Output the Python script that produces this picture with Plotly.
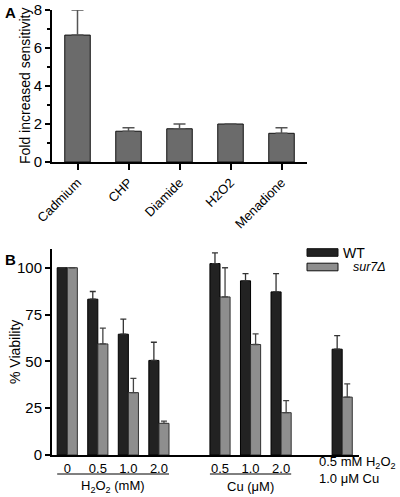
import plotly.graph_objects as go

# ---------------- Panel A data ----------------
a_categories = ["Cadmium", "CHP", "Diamide", "H2O2", "Menadione"]
a_values = [6.68, 1.62, 1.75, 2.0, 1.51]
a_errors = [1.32, 0.18, 0.25, 0.0, 0.29]

# ---------------- Panel B data ----------------
b_slots = [0, 1, 2, 3, 5, 6, 7, 9]  # category slot positions (gaps between groups)
b_ticklabels = ["0", "0.5", "1.0", "2.0", "0.5", "1.0", "2.0", ""]
wt_values = [100, 83.2, 64.5, 50.5, 102.2, 93.0, 87.1, 56.5]
wt_errors = [0, 4.1, 8.1, 9.7, 5.7, 3.8, 9.7, 7.2]
mut_values = [100, 59.3, 33.3, 16.9, 84.4, 59.0, 22.6, 30.9]
mut_errors = [0, 8.4, 7.6, 1.2, 15.6, 5.7, 6.4, 7.1]
b_y_ticks = [0, 25, 50, 75, 100]

FONT = "Liberation Sans, Arial, sans-serif"
W, H = 400, 497

def px(x):
    return x / W

def py(y):
    return 1 - y / H

fig = go.Figure()

fig.add_trace(go.Bar(
    x=a_categories, y=a_values,
    marker=dict(color="#6b6b6b", line=dict(color="#111111", width=1)),
    error_y=dict(type="data", array=a_errors, arrayminus=[0] * len(a_errors),
                 symmetric=False, color="#555555", thickness=1.5, width=6),
    width=0.5, xaxis="x", yaxis="y", showlegend=False,
))

fig.add_trace(go.Bar(
    x=b_slots, y=wt_values, name="WT",
    marker=dict(color="#222222", line=dict(color="#000000", width=1)),
    error_y=dict(type="data", array=wt_errors, arrayminus=[0] * len(wt_errors),
                 symmetric=False, color="#333333", thickness=1.3, width=3),
    xaxis="x2", yaxis="y2", showlegend=False,
))
fig.add_trace(go.Bar(
    x=b_slots, y=mut_values, name="sur7Δ",
    marker=dict(color="#8e8e8e", line=dict(color="#333333", width=1)),
    error_y=dict(type="data", array=mut_errors, arrayminus=[0] * len(mut_errors),
                 symmetric=False, color="#444444", thickness=1.3, width=3),
    xaxis="x2", yaxis="y2", showlegend=False,
))

axis_common = dict(showgrid=False, zeroline=False, showline=True, linecolor="black",
                   linewidth=2, ticks="outside", tickcolor="black", tickwidth=2,
                   automargin=False)

fig.update_layout(
    width=W, height=H,
    margin=dict(l=0, r=0, t=0, b=0),
    plot_bgcolor="white", paper_bgcolor="white",
    font=dict(family=FONT, color="black"),
    barmode="group", bargap=0.34, bargroupgap=0.0,
    xaxis=dict(**axis_common, domain=[px(52), px(307)], anchor="y",
               range=[-0.5, 4.5], ticklen=6, tickangle=-45,
               tickfont=dict(size=13), type="category"),
    yaxis=dict(**axis_common, domain=[py(162), py(10)], anchor="x",
               range=[0, 8], tickvals=[0, 2, 4, 6, 8], ticklen=5,
               tickfont=dict(size=15),
               minor=dict(tickvals=[1, 3, 5, 7], ticks="outside", ticklen=3,
                          tickwidth=1.5, tickcolor="black")),
    xaxis2=dict(showgrid=False, zeroline=False, showline=True, linecolor="black",
                linewidth=2, ticks="", domain=[px(52), px(359)], anchor="y2",
                range=[-0.5, 9.55], tickvals=b_slots[:-1], ticktext=b_ticklabels[:-1],
                tickfont=dict(size=13), automargin=False),
    yaxis2=dict(**axis_common, domain=[py(455), py(249)], anchor="x2",
                range=[0, 110], tickvals=b_y_ticks, ticklen=5,
                tickfont=dict(size=15)),
)

shapes = []
annotations = []

# axis titles
annotations.append(dict(text="Fold increased sensitivity", xref="paper", yref="paper",
                        x=px(25), y=py(86), textangle=-90, showarrow=False,
                        xanchor="center", yanchor="middle", font=dict(size=14)))
annotations.append(dict(text="% Viability", xref="paper", yref="paper",
                        x=px(15), y=py(352), textangle=-90, showarrow=False,
                        xanchor="center", yanchor="middle", font=dict(size=14)))

# group underline + labels for panel B
groups = [
    (b_slots[0], b_slots[3], "H<sub>2</sub>O<sub>2</sub> (mM)"),
    (b_slots[4], b_slots[6], "Cu (μM)"),
]
for start, end, label in groups:
    shapes.append(dict(type="line", xref="x2", yref="paper",
                       x0=start - 0.33, x1=end + 0.33, y0=py(474), y1=py(474),
                       line=dict(color="black", width=1)))
    annotations.append(dict(text=label, xref="x2", yref="paper",
                            x=(start + end) / 2, y=py(486), showarrow=False,
                            xanchor="center", yanchor="middle",
                            font=dict(size=13)))

annotations.append(dict(text="0.5 mM H<sub>2</sub>O<sub>2</sub><br>1.0 μM Cu",
                        xref="paper", yref="paper", x=px(317), y=py(470),
                        xanchor="left", yanchor="middle", align="left",
                        showarrow=False, font=dict(size=13)))

# legend for panel B
legend_items = [("WT", "#222222", 252.5, 341, False), ("sur7Δ", "#8e8e8e", 267, 351, True)]
for label, color, yc, xt, italic in legend_items:
    shapes.append(dict(type="rect", xref="paper", yref="paper",
                       x0=px(307), x1=px(338), y0=py(yc + 3.8), y1=py(yc - 3.8),
                       fillcolor=color, line=dict(color="#111111", width=1)))
    annotations.append(dict(text=f"<i>{label}</i>" if italic else label,
                            xref="paper", yref="paper", x=px(xt), y=py(yc),
                            xanchor="left", yanchor="middle", showarrow=False,
                            font=dict(size=14 if not italic else 12.5)))

# panel labels
annotations.append(dict(text="<b>A</b>", xref="paper", yref="paper", x=px(3), y=py(12),
                        xanchor="left", yanchor="middle", showarrow=False, font=dict(size=15)))
annotations.append(dict(text="<b>B</b>", xref="paper", yref="paper", x=px(3), y=py(259),
                        xanchor="left", yanchor="middle", showarrow=False, font=dict(size=15)))

fig.update_layout(shapes=shapes, annotations=annotations)

fig.write_html("out.html", config={"displayModeBar": False},
               post_script="document.body.style.margin='0';document.body.style.overflow='hidden';")
